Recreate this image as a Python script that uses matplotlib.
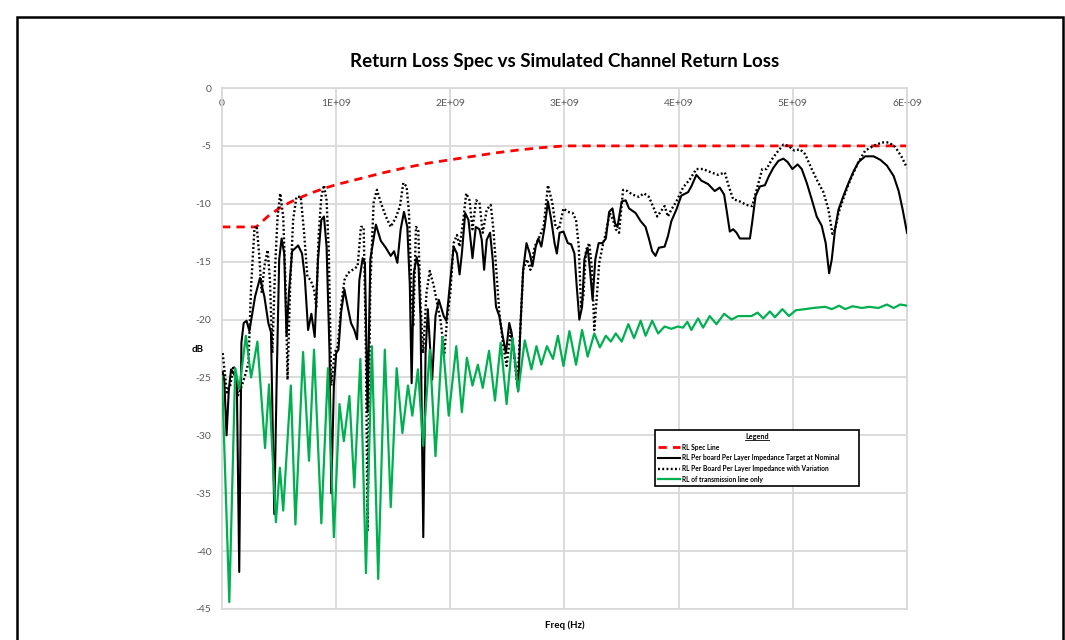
import numpy as np
import matplotlib
matplotlib.use("Agg")
import matplotlib.pyplot as plt
from matplotlib.lines import Line2D
from matplotlib.patches import Rectangle

plt.rcParams["font.family"] = ["Lato", "DejaVu Sans"]

# ---- data (frequency in GHz, return loss in dB) ----
title = "Return Loss Spec vs Simulated Channel Return Loss"
x_label = "Freq (Hz)"
y_label = "dB"
x_ticks_hz = [0, 1e9, 2e9, 3e9, 4e9, 5e9, 6e9]
x_tick_labels = ["0", "1E+09", "2E+09", "3E+09", "4E+09", "5E+09", "6E+09"]
y_ticks = [0, -5, -10, -15, -20, -25, -30, -35, -40, -45]
y_tick_labels = ["0", "-5", "-10", "-15", "-20", "-25", "-30", "-35", "-40", "-45"]

series_names = [
    "RL Spec Line",
    "RL Per board Per Layer Impedance Target at Nominal",
    "RL Per Board Per Layer Impedance with Variation",
    "RL of transmission line only",
]

spec_ghz = [0.0, 0.3, 0.4, 0.5, 0.6, 0.7, 0.8, 0.9, 1.0, 1.2, 1.4, 1.6, 1.8,
            2.0, 2.2, 2.4, 2.6, 2.8, 3.0, 6.0]
spec_db = [-12.0, -12.0, -11.1, -10.4, -9.85, -9.4, -9.0, -8.65, -8.35, -7.85,
           -7.35, -6.9, -6.5, -6.2, -5.9, -5.6, -5.35, -5.15, -5.0, -5.0]

nominal_ghz = [0.006, 0.02, 0.04, 0.06, 0.08, 0.11, 0.13, 0.151, 0.17, 0.19,
               0.215, 0.24, 0.265, 0.29, 0.333, 0.371, 0.406, 0.429, 0.458,
               0.478, 0.501, 0.522, 0.545, 0.565, 0.586, 0.614, 0.667, 0.701,
               0.725, 0.754, 0.783, 0.812, 0.841, 0.870, 0.893, 0.916, 0.942,
               0.957, 0.980, 1.0, 1.02, 1.043, 1.072, 1.101, 1.13, 1.159,
               1.183, 1.203, 1.232, 1.252, 1.275, 1.299, 1.348, 1.391, 1.435,
               1.478, 1.507, 1.536, 1.565, 1.594, 1.623, 1.645, 1.661, 1.68,
               1.705, 1.722, 1.739, 1.763, 1.783, 1.803, 1.826, 1.841, 1.870,
               1.899, 1.942, 1.965, 2.0, 2.029, 2.058, 2.081, 2.101, 2.130,
               2.159, 2.194, 2.223, 2.255, 2.275, 2.296, 2.319, 2.348, 2.371,
               2.4, 2.429, 2.458, 2.487, 2.516, 2.536, 2.565, 2.594, 2.614,
               2.638, 2.667, 2.696, 2.719, 2.748, 2.771, 2.797, 2.826, 2.855,
               2.884, 2.913, 2.933, 2.957, 2.991, 3.029, 3.058, 3.087, 3.107,
               3.130, 3.154, 3.174, 3.203, 3.223, 3.246, 3.270, 3.299, 3.333,
               3.362, 3.391, 3.420, 3.443, 3.464, 3.501, 3.536, 3.565, 3.623,
               3.667, 3.710, 3.739, 3.768, 3.797, 3.826, 3.877, 3.906, 3.936,
               3.980, 4.023, 4.082, 4.111, 4.155, 4.199, 4.258, 4.316, 4.360,
               4.398, 4.419, 4.448, 4.477, 4.507, 4.536, 4.580, 4.624, 4.644,
               4.674, 4.712, 4.755, 4.791, 4.829, 4.873, 4.917, 4.955, 4.996,
               5.042, 5.078, 5.122, 5.165, 5.209, 5.253, 5.288, 5.318, 5.341,
               5.370, 5.400, 5.444, 5.488, 5.532, 5.575, 5.634, 5.707, 5.766,
               5.824, 5.883, 5.927, 5.962, 6.0]
nominal_db = [-24.5, -25.3, -30.0, -26.0, -24.3, -24.8, -25.5, -41.8, -22.0,
              -20.3, -20.1, -21.0, -19.5, -18.0, -16.4, -18.0, -20.3, -21.1,
              -36.8, -25.7, -14.8, -13.0, -14.3, -21.4, -17.7, -14.1, -13.6,
              -14.3, -16.3, -20.9, -19.5, -21.5, -14.8, -11.4, -11.1, -13.7,
              -22.9, -35.0, -25.7, -22.9, -22.6, -19.4, -17.4, -18.9, -20.3,
              -20.9, -21.7, -16.6, -14.7, -15.1, -28.0, -14.8, -11.8, -13.2,
              -13.8, -14.5, -14.1, -15.1, -12.2, -10.7, -12.0, -17.0, -25.5,
              -16.0, -14.6, -15.5, -20.0, -38.8, -22.9, -19.1, -23.0, -25.2,
              -19.7, -18.3, -19.7, -20.1, -16.6, -13.7, -14.3, -16.1, -14.3,
              -10.8, -11.4, -14.7, -12.0, -12.2, -13.1, -15.7, -13.1, -12.5,
              -14.8, -18.9, -19.7, -21.4, -22.9, -20.3, -21.1, -23.4, -26.2,
              -20.6, -15.7, -13.4, -14.3, -15.4, -13.7, -13.0, -13.7, -12.0,
              -9.8, -11.4, -13.4, -14.3, -12.5, -12.4, -13.4, -13.5, -14.3,
              -17.1, -20.0, -18.9, -14.8, -13.8, -15.7, -18.3, -14.8, -13.4,
              -13.4, -13.0, -10.7, -10.4, -11.7, -12.0, -9.8, -9.7, -10.4,
              -10.8, -11.5, -12.0, -13.0, -14.1, -14.5, -13.8, -13.7, -12.8,
              -11.5, -10.5, -9.3, -9.0, -8.5, -7.5, -8.0, -8.3, -8.9, -8.6,
              -9.2, -10.5, -12.4, -12.2, -12.5, -13.0, -13.0, -13.0, -11.6,
              -9.3, -8.5, -8.4, -7.6, -6.9, -6.3, -6.1, -6.4, -7.0, -6.6, -7.0,
              -8.2, -9.6, -11.1, -11.9, -13.4, -16.0, -14.8, -12.2, -10.5,
              -9.3, -8.2, -7.2, -6.4, -5.9, -5.9, -6.2, -6.7, -7.6, -8.9,
              -10.5, -12.5]

variation_ghz = [0.006, 0.043, 0.072, 0.101, 0.122, 0.139, 0.174, 0.209,
                 0.232, 0.255, 0.284, 0.304, 0.325, 0.348, 0.371, 0.4, 0.420,
                 0.441, 0.464, 0.487, 0.510, 0.536, 0.557, 0.574, 0.597, 0.623,
                 0.652, 0.690, 0.719, 0.748, 0.777, 0.806, 0.826, 0.846, 0.870,
                 0.893, 0.916, 0.936, 0.957, 0.986, 1.014, 1.043, 1.072, 1.101,
                 1.145, 1.188, 1.217, 1.241, 1.261, 1.275, 1.299, 1.328, 1.357,
                 1.391, 1.435, 1.478, 1.522, 1.559, 1.588, 1.617, 1.638, 1.658,
                 1.675, 1.699, 1.719, 1.739, 1.762, 1.791, 1.820, 1.855, 1.890,
                 1.913, 1.948, 1.971, 2.0, 2.029, 2.058, 2.081, 2.110, 2.139,
                 2.168, 2.194, 2.226, 2.255, 2.284, 2.319, 2.354, 2.377, 2.4,
                 2.429, 2.464, 2.493, 2.528, 2.557, 2.586, 2.614, 2.638, 2.672,
                 2.701, 2.739, 2.783, 2.817, 2.855, 2.893, 2.922, 2.951, 2.991,
                 3.029, 3.072, 3.101, 3.125, 3.145, 3.165, 3.188, 3.217, 3.241,
                 3.261, 3.281, 3.304, 3.333, 3.362, 3.397, 3.426, 3.449, 3.478,
                 3.513, 3.551, 3.594, 3.652, 3.696, 3.739, 3.783, 3.812, 3.855,
                 3.877, 3.906, 3.936, 3.980, 4.038, 4.097, 4.155, 4.214, 4.287,
                 4.346, 4.404, 4.439, 4.477, 4.536, 4.594, 4.644, 4.691, 4.732,
                 4.770, 4.814, 4.858, 4.917, 4.960, 5.013, 5.063, 5.107, 5.165,
                 5.224, 5.268, 5.312, 5.347, 5.370, 5.400, 5.444, 5.488, 5.532,
                 5.575, 5.634, 5.707, 5.780, 5.839, 5.898, 5.956, 6.0]
variation_db = [-22.9, -26.3, -25.7, -24.0, -24.9, -26.6, -25.7, -24.6, -23.7,
                -17.1, -12.2, -11.9, -14.3, -17.7, -15.4, -14.0, -16.6, -22.9,
                -15.7, -11.1, -9.1, -11.1, -17.1, -25.2, -17.1, -11.4, -9.4,
                -9.4, -12.5, -16.3, -16.6, -17.4, -18.9, -12.8, -9.4, -8.4,
                -9.7, -14.3, -25.7, -22.9, -22.3, -18.9, -16.6, -16.0, -15.7,
                -15.4, -12.0, -12.0, -22.9, -38.2, -17.1, -9.9, -8.8, -9.9,
                -11.1, -12.0, -11.2, -10.2, -8.2, -8.5, -10.8, -17.1, -20.6,
                -12.0, -12.2, -18.6, -22.9, -17.7, -15.8, -17.1, -18.9, -20.0,
                -22.9, -20.0, -17.7, -13.4, -12.7, -13.7, -11.7, -9.1, -9.7,
                -12.2, -9.7, -9.9, -12.5, -10.5, -10.1, -12.2, -15.4, -19.4,
                -22.3, -24.0, -21.1, -22.9, -25.7, -20.6, -15.7, -14.8, -15.7,
                -13.7, -12.8, -12.0, -8.4, -9.9, -12.0, -12.2, -10.4, -10.7,
                -10.8, -11.4, -13.7, -18.9, -18.0, -14.0, -13.4, -15.7, -20.9,
                -18.3, -15.1, -13.7, -12.5, -10.8, -11.4, -12.2, -12.5, -8.8,
                -8.9, -9.2, -9.4, -9.1, -9.4, -10.4, -11.1, -10.5, -10.2, -11.1,
                -10.5, -9.8, -8.6, -7.9, -7.0, -7.0, -7.3, -7.5, -7.3, -8.5,
                -9.6, -9.8, -10.1, -10.2, -8.5, -7.0, -7.0, -6.2, -5.6, -4.9,
                -5.0, -5.4, -5.3, -5.7, -7.0, -8.2, -9.0, -10.5, -12.6, -12.2,
                -10.8, -9.5, -8.3, -7.3, -6.4, -5.4, -5.0, -4.7, -4.7, -5.1,
                -6.0, -6.9]

tline_ghz = [0.0, 0.064, 0.116, 0.151, 0.209, 0.255, 0.310, 0.377, 0.412,
             0.472, 0.507, 0.536, 0.603, 0.643, 0.710, 0.762, 0.806, 0.870,
             0.928, 0.980, 1.029, 1.067, 1.116, 1.159, 1.212, 1.261, 1.313,
             1.368, 1.426, 1.478, 1.530, 1.580, 1.629, 1.667, 1.716, 1.762,
             1.820, 1.870, 1.930, 1.986, 2.052, 2.101, 2.145, 2.194, 2.241,
             2.284, 2.339, 2.391, 2.441, 2.493, 2.545, 2.594, 2.652, 2.710,
             2.754, 2.797, 2.846, 2.899, 2.942, 2.991, 3.043, 3.101, 3.154,
             3.203, 3.261, 3.310, 3.362, 3.406, 3.449, 3.501, 3.559, 3.609,
             3.667, 3.710, 3.768, 3.820, 3.877, 3.936, 3.994, 4.038, 4.076,
             4.111, 4.170, 4.214, 4.272, 4.331, 4.398, 4.463, 4.521, 4.638,
             4.691, 4.741, 4.799, 4.843, 4.908, 4.966, 5.025, 5.107, 5.180,
             5.283, 5.341, 5.406, 5.458, 5.523, 5.605, 5.669, 5.751, 5.824,
             5.883, 5.941, 6.0]
tline_db = [-24.9, -44.4, -24.2, -26.0, -21.4, -25.0, -21.9, -31.1, -25.6,
            -37.5, -32.8, -36.5, -25.7, -37.7, -22.8, -32.2, -22.6, -37.6,
            -24.2, -38.8, -27.3, -30.5, -26.6, -34.5, -23.4, -41.9, -22.3,
            -42.4, -22.6, -36.2, -24.2, -29.8, -25.7, -28.3, -24.3, -30.9,
            -22.6, -31.8, -21.5, -28.3, -22.3, -28.0, -23.3, -25.7, -23.9,
            -25.9, -22.7, -27.0, -22.0, -27.3, -21.6, -26.2, -21.8, -24.3,
            -22.3, -23.9, -22.3, -23.4, -21.4, -24.0, -21.0, -23.9, -20.9,
            -23.2, -21.2, -22.4, -21.4, -21.9, -21.2, -21.9, -20.4, -21.6,
            -20.1, -21.4, -20.1, -21.2, -20.6, -20.8, -20.6, -20.7, -20.2,
            -20.9, -19.9, -20.7, -19.7, -20.4, -19.5, -20.0, -19.7, -19.7,
            -19.4, -19.9, -19.3, -19.8, -19.1, -19.7, -19.2, -19.1, -19.0,
            -18.9, -19.1, -18.8, -19.1, -18.85, -19.0, -18.9, -19.0, -18.7,
            -19.0, -18.7, -18.8]

GHZ = 1e9

fig = plt.figure(figsize=(10.65, 6.4), dpi=100)
W, H = 1065.0, 640.0
ax = fig.add_axes([222 / W, 1 - 609 / H, 685 / W, 521 / H])

grid_col = "#d9d9d9"
ax.plot(np.array(spec_ghz) * GHZ, spec_db, color="#ff0000", lw=2.0,
        linestyle=(0, (3.0, 2.2)), label=series_names[0], zorder=2)
ax.plot(np.array(nominal_ghz) * GHZ, nominal_db, color="black", lw=1.5,
        solid_joinstyle="round", label=series_names[1], zorder=3)
ax.plot(np.array(variation_ghz) * GHZ, variation_db, color="black", lw=1.7,
        linestyle=(0, (0.8, 1.0)), label=series_names[2], zorder=4)
ax.plot(np.array(tline_ghz) * GHZ, tline_db, color="#00b050", lw=1.6,
        solid_joinstyle="round", label=series_names[3], zorder=5)

ax.set_xlim(0, 6e9)
ax.set_ylim(-45, 0)
ax.set_xticks(x_ticks_hz)
ax.set_xticklabels(x_tick_labels)
ax.set_yticks(y_ticks)
ax.set_yticklabels(y_tick_labels)
ax.tick_params(axis="x", top=False, bottom=False, labeltop=True,
               labelbottom=False, pad=-18, labelsize=7.5, labelcolor="#595959")
ax.tick_params(axis="y", left=False, pad=4, labelsize=7.5, labelcolor="#595959")
ax.grid(True, color=grid_col, lw=1.3)
ax.set_axisbelow(True)
for s in ax.spines.values():
    s.set_color(grid_col)
    s.set_linewidth(1.3)

ax.set_title(title, y=(609 - 61) / 521, pad=0, va="center", fontsize=13.5,
             fontweight="bold")
ax.set_xlabel(x_label, fontsize=7, fontweight="bold")
ax.xaxis.set_label_coords(0.5, (609 - 620) / 521)
ax.set_ylabel(y_label, fontsize=7, fontweight="bold", rotation=0,
              va="center", ha="center")
ax.yaxis.set_label_coords((198 - 222) / 685, (609 - 349) / 521)

leg = ax.legend(loc="upper left",
                bbox_to_anchor=((655 - 222) / 685, (609 - 435) / 521,
                                (859 - 655) / 685, 0.01),
                mode="expand", borderaxespad=0, fancybox=False,
                edgecolor="black", framealpha=1, title="Legend",
                prop={"size": 4.8, "weight": "bold"},
                title_fontproperties={"size": 5.2, "weight": "bold"},
                handlelength=3.2, handletextpad=0.4, labelspacing=0.55,
                borderpad=0.5)
leg.get_frame().set_linewidth(1.2)

# underline the legend title
fig.canvas.draw()
bb = leg.get_title().get_window_extent()
fig.add_artist(Line2D([bb.x0, bb.x1], [bb.y0 + 0.5, bb.y0 + 0.5],
                      transform=None, color="black", lw=0.6))

# outer chart frame
fig.add_artist(Rectangle((17 / W, -0.02), (1063 - 17) / W, (640 - 17) / H + 0.02,
                         transform=fig.transFigure, fill=False,
                         edgecolor="black", lw=1.8))

fig.savefig("out.png", dpi=100)
